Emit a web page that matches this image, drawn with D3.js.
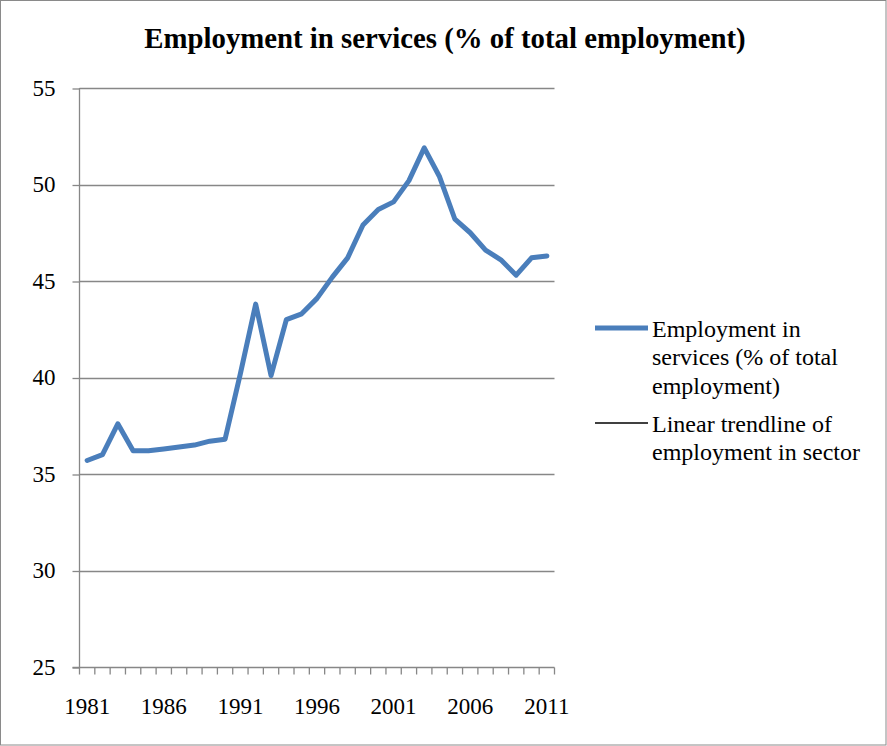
<!DOCTYPE html>
<html>
<head>
<meta charset="utf-8">
<script src="https://cdn.jsdelivr.net/npm/d3@7/dist/d3.min.js"></script>
<style>
  html, body { margin: 0; padding: 0; background: #fff; }
  svg { display: block; }
  text { font-family: "Liberation Serif", "Times New Roman", serif; fill: #000; }
</style>
</head>
<body>
<svg id="chart" width="887" height="746"></svg>
<script>
// Employment in services, % of total employment, by year
const years = d3.range(1981, 2012);
const servicesShare = [
  35.7, 36.0, 37.6, 36.2, 36.2, 36.3, 36.4, 36.5, 36.7, 36.8,
  40.2, 43.8, 40.1, 43.0, 43.3, 44.1, 45.2, 46.2, 47.9, 48.7,
  49.1, 50.2, 51.9, 50.4, 48.2, 47.5, 46.6, 46.1, 45.3, 46.2,
  46.3
];
const yTicks = [25, 30, 35, 40, 45, 50, 55];
const xLabelYears = [1981, 1986, 1991, 1996, 2001, 2006, 2011];
const titleText = "Employment in services (% of total employment)";
const legendItems = [
  { lines: ["Employment in", "services (% of total", "employment)"], color: "#4a7ebb", width: 5 },
  { lines: ["Linear trendline of", "employment in sector"], color: "#000", width: 1.5 }
];

const svg = d3.select("#chart");
const gridColor = "#878787";

// outer frame
svg.append("rect")
  .attr("x", 0.5).attr("y", 0.5)
  .attr("width", 885.5).attr("height", 744.5)
  .attr("fill", "#fff").attr("stroke", "#8a8a8a").attr("stroke-width", 1);

const plot = { left: 79.5, right: 554.5, top: 88, bottom: 667 };

const x = d3.scaleBand().domain(years).range([plot.left, plot.right]).padding(0);
const y = d3.scaleLinear().domain([25, 55]).range([plot.bottom, plot.top]);
const cx = d => x(d) + x.bandwidth() / 2;

// title
svg.append("text")
  .attr("x", 445).attr("y", 48)
  .attr("text-anchor", "middle")
  .style("font-weight", "bold")
  .style("font-size", "28.8px")
  .text(titleText);

// horizontal gridlines
svg.append("g")
  .selectAll("line")
  .data(yTicks.filter(v => v !== 25))
  .join("line")
  .attr("x1", plot.left).attr("x2", plot.right)
  .attr("y1", d => Math.round(y(d)) + 0.5).attr("y2", d => Math.round(y(d)) + 0.5)
  .attr("stroke", gridColor).attr("stroke-width", 1.3);

// y axis
const yAxis = svg.append("g")
  .attr("transform", `translate(${plot.left},0)`)
  .call(d3.axisLeft(y).tickValues(yTicks).tickSize(7).tickPadding(17).tickFormat(d3.format("d")));
yAxis.selectAll("line").attr("stroke", gridColor).attr("stroke-width", 1.3)
  .attr("transform", "translate(0,0.5)");
yAxis.select(".domain").attr("stroke", gridColor).attr("stroke-width", 1.3)
  .attr("d", `M0,${plot.top}V${plot.bottom}`);
yAxis.selectAll("text")
  .style("font-family", "'Liberation Serif', serif")
  .style("font-size", "23px")
  .attr("fill", "#000");

// x axis: category boundaries carry tick marks, labels sit at category centres
const xAxis = svg.append("g")
  .attr("transform", `translate(0,${Math.round(plot.bottom) + 0.5})`);
xAxis.append("line")
  .attr("x1", plot.left - 7).attr("x2", plot.right)
  .attr("stroke", gridColor).attr("stroke-width", 1.3);
const edges = years.map(d => x(d)).concat([x(years[years.length - 1]) + x.bandwidth()]);
xAxis.selectAll("line.tick")
  .data(edges)
  .join("line")
  .attr("class", "tick")
  .attr("x1", d => d).attr("x2", d => d)
  .attr("y1", 0).attr("y2", 7)
  .attr("stroke", gridColor).attr("stroke-width", 1.3);
xAxis.selectAll("text")
  .data(xLabelYears)
  .join("text")
  .attr("x", d => cx(d))
  .attr("y", 46)
  .attr("text-anchor", "middle")
  .style("font-size", "23px")
  .text(d => d);

// series line
const line = d3.line()
  .x((d, i) => cx(years[i]))
  .y(d => y(d));
svg.append("path")
  .datum(servicesShare)
  .attr("d", line)
  .attr("fill", "none")
  .attr("stroke", "#4a7ebb")
  .attr("stroke-width", 5)
  .attr("stroke-linejoin", "round")
  .attr("stroke-linecap", "round");

// legend
const legend = svg.append("g");
const legendTops = [337, 432];
legendItems.forEach((item, i) => {
  const g = legend.append("g").attr("transform", `translate(0,${legendTops[i]})`);
  g.append("line")
    .attr("x1", 595).attr("x2", 648)
    .attr("y1", -9).attr("y2", -9)
    .attr("stroke", item.color).attr("stroke-width", item.width);
  g.selectAll("text")
    .data(item.lines)
    .join("text")
    .attr("x", 652)
    .attr("y", (d, j) => j * 28.3)
    .style("font-size", "24px")
    .text(d => d);
});
</script>
</body>
</html>
